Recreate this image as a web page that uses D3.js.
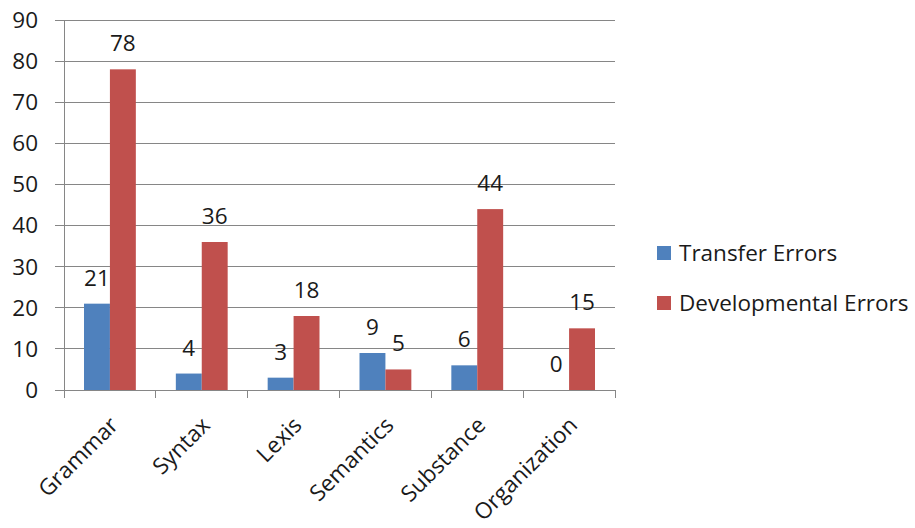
<!DOCTYPE html>
<html><head><meta charset="utf-8">
<script src="https://cdn.jsdelivr.net/npm/d3@7"></script>
<style>body{margin:0;background:#fff;}svg{display:block;}</style>
</head><body>
<svg id="c" width="915" height="528"></svg>
<script>
const categories = ["Grammar","Syntax","Lexis","Semantics","Substance","Organization"];
const seriesNames = ["Transfer Errors","Developmental Errors"];
const transfer = [21,4,3,9,6,0];
const developmental = [78,36,18,5,44,15];
const yTicks = [0,10,20,30,40,50,60,70,80,90];
const colors = ["#4F81BD","#C0504D"];

(function(){
const svg = d3.select("#c");
const font = "'Open Sans', sans-serif";
const fs = 22.5;
const pLeft = 64, pRight = 615, pTop = 20, pBottom = 390;
const x = d3.scaleBand().domain(categories).range([pLeft,pRight]).paddingInner(0).paddingOuter(0);
const y = d3.scaleLinear().domain([0,90]).range([pBottom,pTop]);
const inner = d3.scaleBand().domain([0,1]).range([20, x.bandwidth()-20]);
const gridColor = "#868686";

svg.append("g").selectAll("line").data(yTicks).join("line")
  .attr("x1",pLeft-9).attr("x2",pRight).attr("y1",d=>y(d)).attr("y2",d=>y(d))
  .attr("stroke",gridColor).attr("stroke-width",1).attr("shape-rendering","crispEdges");
svg.append("line").attr("x1",pLeft).attr("x2",pLeft).attr("y1",pTop).attr("y2",pBottom)
  .attr("stroke",gridColor).attr("shape-rendering","crispEdges");
svg.append("g").selectAll("text").data(yTicks).join("text")
  .attr("x",38).attr("y",d=>y(d)).attr("dy","0.35em").attr("text-anchor","end")
  .attr("font-family",font).attr("font-size",fs).attr("fill","#1a1a1a").text(d=>d);

const data = categories.map((c,i)=>({c, vals:[transfer[i],developmental[i]]}));
const g = svg.append("g").selectAll("g").data(data).join("g")
  .attr("transform",d=>`translate(${x(d.c)},0)`);
g.selectAll("rect").data(d=>d.vals.map((v,k)=>({v,k}))).join("rect")
  .attr("x",d=>inner(d.k)).attr("width",inner.bandwidth())
  .attr("y",d=>y(d.v)).attr("height",d=>pBottom-y(d.v))
  .attr("fill",d=>colors[d.k]);
g.selectAll("text").data(d=>d.vals.map((v,k)=>({v,k}))).join("text")
  .attr("x",d=>inner(d.k)+inner.bandwidth()/2).attr("y",d=>y(d.v)-18)
  .attr("text-anchor","middle").attr("font-family",font).attr("font-size",fs).attr("fill","#1a1a1a")
  .text(d=>d.v);

svg.append("line").attr("x1",pLeft).attr("x2",pRight).attr("y1",pBottom).attr("y2",pBottom)
  .attr("stroke",gridColor).attr("shape-rendering","crispEdges");
const ticksX = categories.map((c)=>x(c)).concat([pRight]);
svg.append("g").selectAll("line").data(ticksX).join("line")
  .attr("x1",d=>d).attr("x2",d=>d).attr("y1",pBottom).attr("y2",pBottom+8)
  .attr("stroke",gridColor).attr("shape-rendering","crispEdges");
svg.append("g").selectAll("text").data(categories).join("text")
  .attr("transform",c=>`translate(${x(c)+x.bandwidth()/2+4},${pBottom+31}) rotate(-45)`)
  .attr("text-anchor","end").attr("dy","0.35em")
  .attr("font-family",font).attr("font-size",fs).attr("fill","#1a1a1a").text(c=>c);

const lg = svg.append("g").selectAll("g").data(seriesNames).join("g")
  .attr("transform",(d,i)=>`translate(657,${253+i*50})`);
lg.append("rect").attr("x",0).attr("y",-7).attr("width",14).attr("height",14).attr("fill",(d,i)=>colors[i]);
lg.append("text").attr("x",22).attr("y",0).attr("dy","0.35em")
  .attr("font-family",font).attr("font-size",fs).attr("fill","#1a1a1a").text(d=>d);
})();
</script>
</body></html>
